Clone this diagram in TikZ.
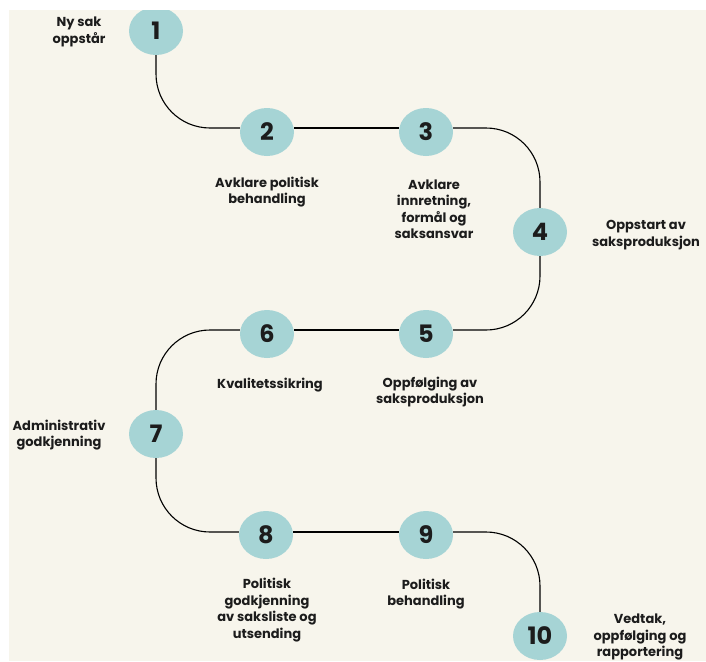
\documentclass[tikz,border=0pt]{standalone}
\usepackage{fontspec}
\setmainfont{Poppins}
\usetikzlibrary{shapes.geometric}
\definecolor{cream}{RGB}{247,245,236}
\definecolor{teal}{RGB}{166,212,213}
\definecolor{ink}{RGB}{28,28,28}
\tikzset{
  stepnum/.style={ellipse, fill=teal, inner sep=0pt, minimum width=54pt, minimum height=48pt,
    font=\fontsize{24}{24}\selectfont\bfseries, text=ink},
  lbl/.style={align=center, font=\fontsize{13}{16.5}\selectfont\bfseries, text=ink, inner sep=0pt},
  conn/.style={draw=black, line width=1.1pt, rounded corners=54pt},
}
\begin{document}
\begin{tikzpicture}[x=1pt,y=-1pt]
\useasboundingbox (0,0) rectangle (706,661);
\fill[cream] (0,0) rectangle (706,661);
% nodes
\node[stepnum] (n1) at (156,31) {1};
\node[stepnum] (n2) at (267,132) {2};
\node[stepnum] (n3) at (426,132) {3};
\node[stepnum] (n4) at (540,232) {4};
\node[stepnum] (n5) at (426,334) {5};
\node[stepnum] (n6) at (267,334) {6};
\node[stepnum] (n7) at (156,434) {7};
\node[stepnum] (n8) at (266,535) {8};
\node[stepnum] (n9) at (426,535) {9};
\node[stepnum] (n10) at (540,636) {10};
% connectors
\draw[conn] (n1.south) |- ([yshift=4pt]n2.west);
\draw[conn] ([yshift=4pt]n2.east) -- ([yshift=4pt]n3.west);
\draw[conn] ([yshift=4pt]n3.east) -| (n4.north);
\draw[conn] (n4.south) |- ([yshift=4pt]n5.east);
\draw[conn] ([yshift=4pt]n5.west) -- ([yshift=4pt]n6.east);
\draw[conn] ([yshift=4pt]n6.west) -| (n7.north);
\draw[conn] (n7.south) |- ([yshift=3pt]n8.west);
\draw[conn] ([yshift=3pt]n8.east) -- ([yshift=3pt]n9.west);
\draw[conn] ([yshift=3pt]n9.east) -| (n10.north);
% labels
\node[lbl] (t1) at (79,32) {Ny sak\\oppstår};
\node[lbl] (t2) at (267,192) {Avklare politisk\\behandling};
\node[lbl] (t3) at (434,209) {Avklare\\innretning,\\formål og\\saksansvar};
\node[lbl] (t4) at (646,235) {Oppstart av\\saksproduksjon};
\node[lbl] (t6) at (270,385) {Kvalitetssikring};
\node[lbl] (t5) at (430,392) {Oppfølging av\\saksproduksjon};
\node[lbl] (t7) at (59,435) {Administrativ\\godkjenning};
\node[lbl] (t8) at (267,610) {Politisk\\godkjenning\\av saksliste og\\utsending};
\node[lbl] (t9) at (426,594) {Politisk\\behandling};
\node[lbl] (t10) at (640,637) {Vedtak,\\oppfølging og\\rapportering};
% white margins
\fill[white] (0,0) rectangle (706,10);
\fill[white] (0,0) rectangle (9,661);
\end{tikzpicture}
\end{document}
